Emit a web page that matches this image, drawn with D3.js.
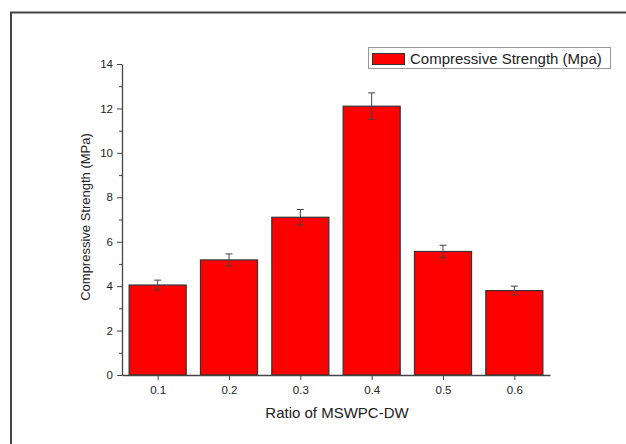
<!DOCTYPE html>
<html>
<head>
<meta charset="utf-8">
<script src="https://cdnjs.cloudflare.com/ajax/libs/d3/7.8.5/d3.min.js"></script>
<style>
  body { margin: 0; background: #fff; }
  svg { display: block; font-family: Arial, "Liberation Sans", sans-serif; }
</style>
</head>
<body>
<svg width="626" height="444"></svg>
<script>
// data
var ratios = [0.1, 0.2, 0.3, 0.4, 0.5, 0.6];
var strength = [4.05, 5.18, 7.1, 12.1, 5.56, 3.8];
var errors = [0.22, 0.27, 0.35, 0.6, 0.28, 0.2];
var yTicks = [0, 2, 4, 6, 8, 10, 12, 14];
var legendLabel = "Compressive Strength (Mpa)";

var svg = d3.select("svg");

// outer frame (only top and left edges show in the crop)
svg.append("path")
    .attr("d", "M11,444V12.5H626")
    .attr("fill", "none")
    .attr("stroke", "#444")
    .attr("stroke-width", 2);

var x = d3.scaleLinear().domain([0.05, 0.65]).range([122, 550]),
    y = d3.scaleLinear().domain([0, 14]).range([375, 64]);

var barW = x(0.08) - x(0);

var g = svg.append("g");

// bars
g.selectAll("rect.bar")
  .data(ratios)
  .enter().append("rect")
    .attr("class", "bar")
    .attr("x", function(d) { return x(d) - barW / 2; })
    .attr("y", function(d, i) { return y(strength[i]); })
    .attr("width", barW)
    .attr("height", function(d, i) { return y(0) - y(strength[i]); })
    .attr("fill", "#ff0000")
    .attr("stroke", "#333")
    .attr("stroke-width", 1.2);

// error bars
var eb = g.selectAll("g.err")
  .data(ratios)
  .enter().append("g")
    .attr("class", "err")
    .attr("stroke", "#444")
    .attr("stroke-width", 1);

eb.append("line")
    .attr("x1", function(d) { return x(d); })
    .attr("x2", function(d) { return x(d); })
    .attr("y1", function(d, i) { return y(strength[i] + errors[i]); })
    .attr("y2", function(d, i) { return y(strength[i] - errors[i]); });
[1, -1].forEach(function(s) {
  eb.append("line")
      .attr("x1", function(d) { return x(d) - 3.5; })
      .attr("x2", function(d) { return x(d) + 3.5; })
      .attr("y1", function(d, i) { return y(strength[i] + s * errors[i]); })
      .attr("y2", function(d, i) { return y(strength[i] + s * errors[i]); });
});

// y axis
svg.append("g")
    .attr("transform", "translate(122,0)")
    .call(d3.axisLeft(y).tickValues(yTicks).tickSize(5).tickPadding(4).tickSizeOuter(0));
svg.append("g")
    .attr("transform", "translate(122,0)")
    .call(d3.axisLeft(y).tickValues(d3.range(1, 14, 2)).tickSize(3).tickFormat("").tickSizeOuter(0))
    .select(".domain").remove();

// x axis
svg.append("g")
    .attr("transform", "translate(0,375)")
    .call(d3.axisBottom(x).tickValues(ratios).tickSize(5).tickPadding(6).tickSizeOuter(0)
      .tickFormat(d3.format(".1f")));

svg.selectAll(".domain").attr("stroke", "#444").attr("stroke-width", 1.3);
svg.selectAll(".tick line").attr("stroke", "#444");
svg.selectAll(".tick text").attr("fill", "#222").style("font-size", "11.5px")
    .style("font-family", "Arial, 'Liberation Sans', sans-serif");

// axis titles
svg.append("text")
    .attr("x", 337)
    .attr("y", 418)
    .attr("text-anchor", "middle")
    .attr("fill", "#222")
    .style("font-size", "15px")
    .text("Ratio of MSWPC-DW");

svg.append("text")
    .attr("transform", "translate(90,217) rotate(-90)")
    .attr("text-anchor", "middle")
    .attr("fill", "#222")
    .style("font-size", "13px")
    .text("Compressive Strength (MPa)");

// legend
var leg = svg.append("g");
leg.append("rect")
    .attr("x", 368.5).attr("y", 47.5)
    .attr("width", 242).attr("height", 21)
    .attr("fill", "#fff")
    .attr("stroke", "#999");
leg.append("rect")
    .attr("x", 372.5).attr("y", 53.5)
    .attr("width", 32).attr("height", 11)
    .attr("fill", "#ff0000")
    .attr("stroke", "#333");
leg.append("text")
    .attr("x", 410)
    .attr("y", 63.5)
    .attr("fill", "#222")
    .style("font-size", "15px")
    .text(legendLabel);
</script>
</body>
</html>
